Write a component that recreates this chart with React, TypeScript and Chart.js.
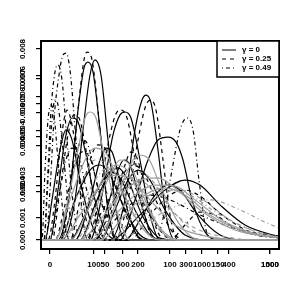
import React, { useEffect, useRef } from "react";
import { Chart, registerables } from "chart.js";
Chart.register(...registerables);

// y values are in units of 0.001 (density), x in the plot's own units
const S1 = [[12,0],[25,1.68],[33,4.61],[40,6.91],[45,7.54],[51,6.91],[58,4.19],[66,1.26],[75,0]];
const S2 = [[8,0],[20,2.09],[28,5.44],[34,7.2],[38,7.45],[43,7.04],[50,4.61],[58,1.26],[68,0]];
const S3 = [[60,0],[75,1.68],[85,4.61],[92,5.86],[96,6.07],[101,5.74],[108,3.77],[116,1.05],[125,0]];
const S4 = [[40,0],[53,2.09],[63,4.4],[70,5.24],[75,5.36],[81,5.11],[90,3.35],[100,1.05],[110,0]];
const S5 = [[70,0],[85,1.68],[98,3.35],[108,4.19],[118,4.31],[126,4.1],[133,3.35],[142,1.68],[155,0.34],[170,0]];
const S6 = [[60,0],[90,1.05],[115,2.09],[135,2.51],[150,2.3],[170,1.47],[195,0.63],[229,0.13]];
const S7 = [[0,0],[8,2.09],[15,4.19],[22,5.11],[27,5.03],[35,3.77],[45,1.68],[58,0.21],[70,0]];
const S8 = [[10,0],[25,1.68],[40,2.93],[50,3.14],[60,2.72],[75,1.26],[90,0.21],[105,0]];
const S9 = [[30,0],[45,1.47],[58,2.72],[68,3.02],[78,2.51],[92,1.05],[110,0.08],[125,0]];
const S10 = [[-5,0],[2,1.68],[10,3.77],[16,4.61],[22,4.19],[30,2.51],[42,0.63],[55,0]];
const S11 = [[50,0],[65,1.26],[78,2.51],[88,2.93],[100,2.51],[115,1.26],[135,0.21],[160,0]];
const S12 = [[20,0],[35,1.05],[50,2.3],[60,2.85],[70,2.6],[85,1.26],[100,0.21],[115,0]];
const S13 = [[75,0],[90,0.84],[105,1.88],[118,2.3],[130,2.09],[148,1.05],[170,0.21],[195,0]];
const S14 = [[25,0],[40,1.68],[50,3.35],[56,3.85],[62,3.69],[72,2.09],[85,0.34],[95,0]];
const S15 = [[45,0],[58,1.47],[68,2.93],[74,3.35],[80,3.14],[90,1.68],[102,0.21],[110,0]];

const D1 = [[10,0],[20,2.09],[28,5.44],[34,7.54],[37,7.87],[42,7.54],[49,5.03],[57,1.68],[65,0]];
const D2 = [[65,0],[78,1.68],[88,4.19],[96,5.65],[101,5.86],[106,5.44],[113,3.35],[120,1.05],[128,0]];
const D3 = [[38,0],[50,2.09],[60,4.4],[67,5.36],[71,5.44],[77,5.11],[86,3.14],[96,0.84],[105,0]];
const D4 = [[2,0],[10,2.09],[18,4.4],[24,5.24],[29,5.11],[36,3.77],[45,1.47],[55,0]];
const D5 = [[20,0],[30,1.68],[40,3.35],[48,3.98],[56,3.77],[68,2.09],[82,0.42],[95,0]];
const D6 = [[45,0],[60,1.26],[73,2.72],[83,3.14],[93,2.85],[108,1.47],[125,0.21],[140,0]];
const D7 = [[80,0],[100,1.05],[120,1.88],[135,2.09],[150,1.84],[172,1.05],[200,0.34],[229,0.08]];
const D8 = [[-2,0],[5,1.68],[10,3.77],[14,5.03],[17,5.44],[22,4.82],[30,2.51],[40,0.21],[48,0]];
const D9 = [[35,0],[50,1.05],[65,2.09],[75,2.43],[85,2.18],[100,1.05],[118,0.08],[130,0]];
const D10 = [[5,0],[15,1.47],[25,3.14],[32,3.69],[40,3.43],[50,1.88],[65,0.21],[75,0]];
const D11 = [[50,0],[65,1.68],[75,3.14],[81,3.69],[87,3.43],[98,1.68],[110,0.17],[120,0]];

const DD1 = [[-4,0],[0,2.09],[4,5.03],[9,6.91],[13,7.75],[16,7.83],[20,7.12],[26,4.19],[33,0.84],[38,0]];
const DD2 = [[-6,0],[-3,2.09],[1,5.44],[5,7.04],[8,7.33],[12,6.7],[17,4.19],[24,1.26],[30,0]];
const DD3 = [[105,0],[115,1.26],[122,2.93],[130,4.61],[137,5.11],[143,4.61],[149,2.51],[156,0.42],[162,0]];
const DD4 = [[-6,0],[-2,2.51],[2,5.03],[5,5.86],[8,5.65],[12,4.19],[18,1.68],[25,0]];
const DD5 = [[-8,0],[-5,2.93],[-2,5.03],[1,5.65],[4,5.24],[8,3.35],[14,0.84],[20,0]];
const DD6 = [[40,0],[60,0.63],[80,1.47],[100,1.88],[120,1.68],[150,1.05],[190,0.42],[229,0.17]];
const DD7 = [[10,0],[18,1.68],[25,3.35],[32,4.19],[38,3.98],[46,2.51],[58,0.63],[68,0]];
const DD8 = [[120,0],[135,0.63],[150,1.17],[165,1.05],[185,0.5],[210,0.17],[229,0.08]];
const DD9 = [[0,0],[8,1.68],[16,3.35],[22,3.85],[28,3.56],[38,1.88],[50,0.34],[60,0]];

const G1 = [[10,0],[30,1.05],[50,2.3],[65,2.72],[80,2.6],[100,1.68],[125,0.63],[160,0.13],[200,0]];
const G2 = [[30,0],[50,0.84],[70,1.88],[90,2.51],[108,2.6],[125,2.18],[150,1.26],[185,0.42],[229,0.08]];
const G3 = [[40,0],[65,1.05],[85,1.88],[105,2.3],[125,2.26],[145,1.68],[175,0.75],[210,0.21],[229,0.08]];
const G4 = [[5,0],[20,1.68],[35,3.35],[45,3.85],[55,3.69],[70,2.3],[90,0.63],[110,0]];
const G5 = [[20,0],[40,1.47],[55,2.72],[65,3.14],[75,3.02],[90,1.88],[110,0.5],[130,0]];
const G6 = [[50,0],[75,1.05],[95,1.88],[115,2.18],[135,1.88],[160,1.05],[195,0.34],[229,0.08]];
const G12 = [[5,0],[18,1.68],[28,3.77],[35,5.11],[40,5.36],[46,5.11],[55,3.35],[68,1.05],[80,0]];
const G13 = [[50,0],[65,1.47],[78,2.93],[88,3.56],[98,3.43],[110,2.3],[128,0.75],[150,0]];
const G14 = [[30,0],[45,1.26],[60,2.72],[70,3.35],[80,3.14],[95,1.68],[115,0.21],[130,0]];
const G7 = [[25,0],[45,1.26],[65,2.3],[80,2.6],[95,2.39],[115,1.47],[145,0.5],[190,0.04],[210,0]];
const G8 = [[60,0],[85,1.05],[110,1.88],[130,2.09],[150,1.76],[180,0.84],[210,0.29],[229,0.13]];
const G9 = [[10,0],[22,1.26],[35,2.72],[45,3.35],[55,3.22],[70,2.09],[90,0.63],[110,0]];
const G15 = [[40,0],[60,1.47],[75,2.51],[88,2.85],[100,2.6],[118,1.47],[145,0.34],[179,0.04],[200,0]];
const G10 = [[70,0],[100,0.84],[130,1.47],[160,1.68],[190,1.26],[215,0.75],[229,0.5]];
const G11 = [[15,0],[30,1.26],[45,2.51],[58,3.02],[70,2.85],[90,1.47],[115,0.21],[135,0]];
const G16 = [[50,0],[75,1.05],[100,1.88],[120,2.09],[140,1.88],[170,1.05],[210,0.29],[229,0.13]];

const blackSolid = [S1, S2, S3, S4, S5, S6, S7, S8, S9, S10, S11, S12, S13, S14, S15];
const blackDashed = [D1, D2, D3, D4, D5, D6, D7, D8, D9, D10, D11];
const blackDotDash = [DD1, DD2, DD3, DD4, DD5, DD6, DD7, DD8, DD9];
const graySolid = [G1, G2, G3, G4, G5, G6, G12, G13, G14];
const grayDashed = [G7, G8, G9, G15];
const grayDotDash = [G10, G11, G16];

const xTickValues = [0, 44, 55, 73, 88, 120, 136, 152, 168, 179, 220, 220];
const xTickLabels = ["0", "100", "50", "500", "200", "100", "300", "1000", "150", "400", "1000", "1500"];
const yTickValues = [8.0, 6.87, 6.74, 5.99, 5.7, 5.32, 4.57, 4.31, 3.94, 2.64, 2.26, 2.01, 0.92, 0];
const yTickLabels = ["0.008", "0.006", "0.007", "0.006", "0.005", "0.006", "0.004", "0.005", "0.004", "0.003", "0.004", "0.002", "0.001", "0.000"];
const legendLabels = ["\u03b3 = 0", "\u03b3 = 0.25", "\u03b3 = 0.49"];

const X_MIN = -9, X_MAX = 229, Y_MIN = -0.377, Y_MAX = 8.334;
const FONT = "bold 8px 'Liberation Sans', Arial, sans-serif";
const DASHED = [4, 4];
const DOTDASH = [1, 3, 4, 3];
const GRAY = "#9c9c9c";

function withBase(pts: number[][]) {
  const out = pts.slice();
  if (out[0][0] > X_MIN) out.unshift([X_MIN, 0]);
  if (out[out.length - 1][0] < X_MAX) out.push([X_MAX, 0]);
  return out.map(([x, y]) => ({ x, y }));
}

function mk(pts: number[][], color: string, dash: number[]) {
  return {
    data: withBase(pts),
    borderColor: color,
    borderWidth: 1.2,
    borderDash: dash,
    pointRadius: 0,
    fill: false,
    cubicInterpolationMode: "monotone" as const,
  };
}

const framePlugin = {
  id: "frame",
  afterDraw(chart: any) {
    const { ctx, chartArea: a, scales } = chart;
    ctx.save();
    ctx.strokeStyle = "#000";
    ctx.lineWidth = 2;
    ctx.setLineDash([]);
    ctx.strokeRect(a.left, a.top, a.right - a.left, a.bottom - a.top);
    ctx.fillStyle = "#000";
    ctx.font = FONT;
    ctx.textAlign = "center";
    ctx.textBaseline = "middle";
    yTickValues.forEach((v, i) => {
      const py = scales.y.getPixelForValue(v);
      ctx.save();
      ctx.translate(23, py);
      ctx.rotate(-Math.PI / 2);
      ctx.fillText(yTickLabels[i], 0, 0);
      ctx.restore();
    });
    const lx = 217, ly = a.top, lw = a.right - 217, lh = 36;
    ctx.fillStyle = "#fff";
    ctx.fillRect(lx, ly, lw, lh);
    ctx.lineWidth = 1.5;
    ctx.strokeRect(lx, ly, lw, lh);
    const dashes = [[], DASHED, DOTDASH];
    legendLabels.forEach((t, i) => {
      const yy = ly + 9 + i * 9;
      ctx.lineWidth = 1;
      ctx.setLineDash(dashes[i]);
      ctx.beginPath();
      ctx.moveTo(222, yy);
      ctx.lineTo(236, yy);
      ctx.stroke();
      ctx.setLineDash([]);
      ctx.fillStyle = "#000";
      ctx.textAlign = "left";
      ctx.fillText(t, 242, yy);
    });
    ctx.restore();
  },
};

export default function App() {
  const ref = useRef<HTMLCanvasElement>(null);
  useEffect(() => {
    if (!ref.current) return;
    const datasets = [
      ...graySolid.map((p) => mk(p, GRAY, [])),
      ...grayDashed.map((p) => mk(p, GRAY, DASHED)),
      ...grayDotDash.map((p) => mk(p, GRAY, DOTDASH)),
      ...blackSolid.map((p) => mk(p, "#000", [])),
      ...blackDashed.map((p) => mk(p, "#000", DASHED)),
      ...blackDotDash.map((p) => mk(p, "#000", DOTDASH)),
    ];
    const chart = new Chart(ref.current, {
      type: "line",
      data: { datasets },
      options: {
        responsive: false,
        animation: false,
        layout: { padding: { top: 41, right: 21, left: 0, bottom: 0 } },
        plugins: { legend: { display: false }, tooltip: { enabled: false } },
        scales: {
          x: {
            type: "linear",
            min: X_MIN,
            max: X_MAX,
            afterBuildTicks: (s: any) => {
              s.ticks = xTickValues.map((v) => ({ value: v }));
            },
            afterFit: (s: any) => {
              s.height = 51;
            },
            border: { display: false },
            grid: { drawOnChartArea: false, drawTicks: true, tickLength: 5, color: "#000", lineWidth: 1.2 },
            ticks: {
              autoSkip: false,
              maxRotation: 0,
              minRotation: 0,
              padding: 6,
              color: "#000",
              font: { family: "'Liberation Sans', Arial, sans-serif", size: 8, weight: "bold" },
              callback: (_v: any, i: number) => xTickLabels[i],
            },
          },
          y: {
            type: "linear",
            min: Y_MIN,
            max: Y_MAX,
            afterBuildTicks: (s: any) => {
              s.ticks = yTickValues.map((v) => ({ value: v }));
            },
            afterFit: (s: any) => {
              s.width = 41;
            },
            border: { display: false },
            grid: { drawOnChartArea: false, drawTicks: true, tickLength: 5, color: "#000", lineWidth: 1.2 },
            ticks: { display: false },
          },
        },
      },
      plugins: [framePlugin],
    });
    return () => chart.destroy();
  }, []);
  return (
    <div style={{ position: "fixed", left: 0, top: 0, width: 300, height: 300, background: "#fff" }}>
      <canvas ref={ref} width={300} height={300} />
    </div>
  );
}
